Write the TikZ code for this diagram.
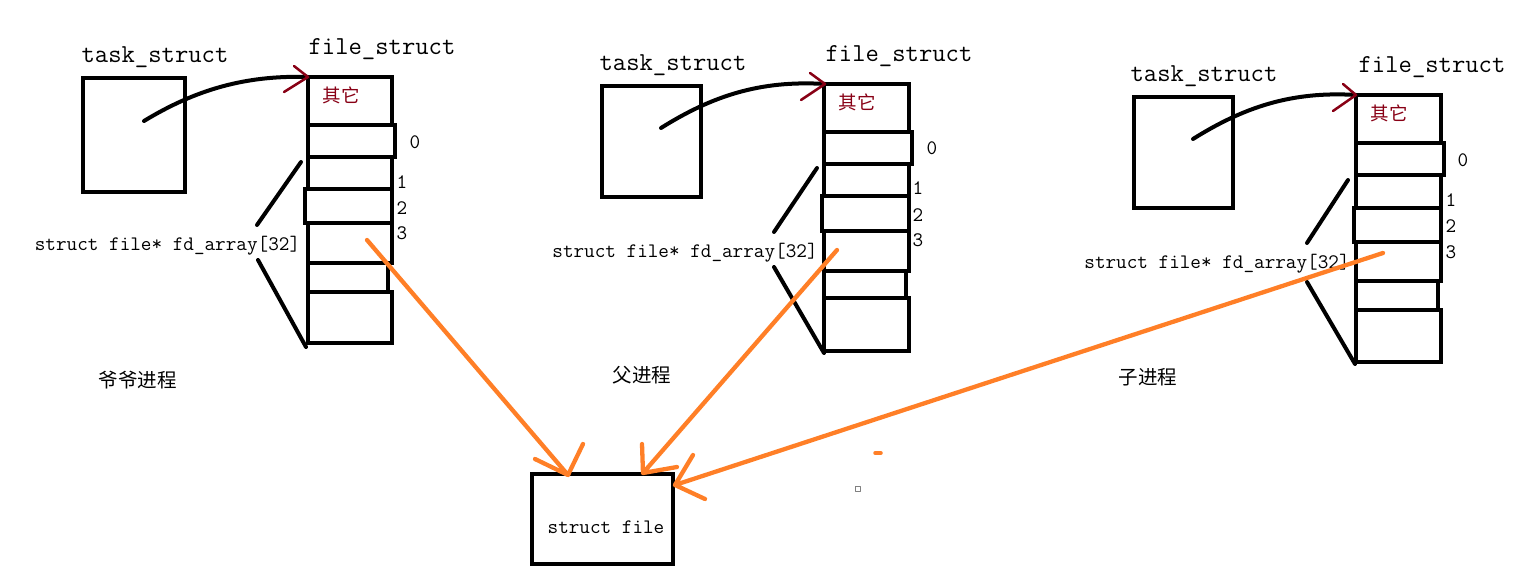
\documentclass[tikz,border=0pt]{standalone}
\usepackage{fontspec}
\newfontfamily\cjk{Noto Sans CJK SC}
\definecolor{pord}{HTML}{FF7F27}
\definecolor{pdred}{HTML}{880015}
\begin{document}
\begin{tikzpicture}[x=1pt,y=-1pt,line cap=round,line join=round,
  blk/.style={draw=black,line width=4.5pt,inner sep=0pt,outer sep=0pt,rectangle,line cap=butt,line join=miter},
  ttl/.style={inner sep=0pt,anchor=base,font=\ttfamily\fontsize{25.9}{28}\selectfont},
  fdl/.style={inner sep=0pt,anchor=base,font=\ttfamily\fontsize{20.6}{23}\selectfont},
  dig/.style={inner sep=0pt,font=\ttfamily\fontsize{20.6}{23}\selectfont},
  oth/.style={inner sep=0pt,text=pdred,font=\cjk\fontsize{18.5}{20}\selectfont},
  proc/.style={inner sep=0pt,font=\cjk\fontsize{19.5}{21}\selectfont},
  ptr/.style={draw=black,line width=4pt},
  ahead/.style={draw=pdred,line width=2.5pt},
  wedge/.style={draw=black,line width=4pt},
  oline/.style={draw=pord,line width=4.3pt}]
\useasboundingbox (0,0) rectangle (1535,577);

% ---------- group 1 ----------
\node[ttl] (tl1) at (155,63) {task\_struct};
\node[ttl] (fl1) at (382,55) {file\_struct};
\node[blk,minimum width=102,minimum height=114] (t1) at (134,135) {};
\node[blk,minimum width=84,minimum height=48] (a0o) at (350,101) {};
\node[blk,minimum width=87,minimum height=32] (a0) at (351.5,141) {};
\node[blk,minimum width=84,minimum height=32] (a1) at (350,173) {};
\node[blk,minimum width=87,minimum height=34] (a2) at (348.5,206) {};
\node[blk,minimum width=84,minimum height=40] (a3) at (350,243) {};
\node[blk,minimum width=80,minimum height=29] (a4) at (348,277.5) {};
\node[blk,minimum width=84,minimum height=51] (a5) at (350,317.5) {};
\node[oth] (ao) at (341,95) {其它};
\node[dig] (ad0) at (415,142) {0};
\node[dig] (ad1) at (402,182) {1};
\node[dig] (ad2) at (402,208) {2};
\node[dig] (ad3) at (402,233) {3};
\node[fdl] (afd) at (167.5,251) {struct file* fd\_array[32]};
\node[proc] (ap) at (137.5,380) {爷爷进程};
\coordinate (ap0) at (144,121);
\coordinate (atip) at (308,77);
\draw[ptr] (ap0) .. controls (195,90) and (245,75) .. (atip);
\draw[ahead] (atip) ++(-14,-11) -- (atip) -- ++(-24,15);
\coordinate (aw1) at (301,162); \coordinate (aw2) at (257,225);
\coordinate (aw3) at (258,260); \coordinate (aw4) at (306,347);
\draw[wedge] (aw1) -- (aw2);
\draw[wedge] (aw3) -- (aw4);

% ---------- group 2 ----------
\node[ttl] (tl2) at (673,71) {task\_struct};
\node[ttl] (fl2) at (899,62) {file\_struct};
\node[blk,minimum width=99,minimum height=111] (t2) at (651.5,141.5) {};
\node[blk,minimum width=85,minimum height=48] (b0o) at (866.5,108) {};
\node[blk,minimum width=88,minimum height=32] (b0) at (868,148) {};
\node[blk,minimum width=85,minimum height=32] (b1) at (866.5,180) {};
\node[blk,minimum width=87,minimum height=35] (b2) at (865.5,213.5) {};
\node[blk,minimum width=85,minimum height=40] (b3) at (866.5,251) {};
\node[blk,minimum width=82,minimum height=27] (b4) at (865,284.5) {};
\node[blk,minimum width=85,minimum height=53] (b5) at (866.5,324.5) {};
\node[oth] (bo) at (857,102) {其它};
\node[dig] (bd0) at (932,148) {0};
\node[dig] (bd1) at (918,188) {1};
\node[dig] (bd2) at (918,215) {2};
\node[dig] (bd3) at (918,240) {3};
\node[fdl] (bfd) at (685,258) {struct file* fd\_array[32]};
\node[proc] (bp) at (642,375) {父进程};
\coordinate (bp0) at (661,128);
\coordinate (btip) at (825,84);
\draw[ptr] (bp0) .. controls (712,96) and (760,80) .. (btip);
\draw[ahead] (btip) ++(-15,-11) -- (btip) -- ++(-24,16);
\coordinate (bw1) at (817,168); \coordinate (bw2) at (774,232);
\coordinate (bw3) at (774,267); \coordinate (bw4) at (824,353);
\draw[wedge] (bw1) -- (bw2);
\draw[wedge] (bw3) -- (bw4);

% ---------- group 3 ----------
\node[ttl] (tl3) at (1204,82) {task\_struct};
\node[ttl] (fl3) at (1432,73) {file\_struct};
\node[blk,minimum width=99,minimum height=111] (t3) at (1183.5,152.5) {};
\node[blk,minimum width=85,minimum height=48] (c0o) at (1398.5,119) {};
\node[blk,minimum width=88,minimum height=32] (c0) at (1400,159) {};
\node[blk,minimum width=85,minimum height=33] (c1) at (1398.5,191.5) {};
\node[blk,minimum width=87,minimum height=34] (c2) at (1397.5,225) {};
\node[blk,minimum width=85,minimum height=39] (c3) at (1398.5,261.5) {};
\node[blk,minimum width=82,minimum height=29] (c4) at (1397,295.5) {};
\node[blk,minimum width=85,minimum height=52] (c5) at (1398.5,336) {};
\node[oth] (co) at (1389,113) {其它};
\node[dig] (cd0) at (1463,160) {0};
\node[dig] (cd1) at (1451,200) {1};
\node[dig] (cd2) at (1451,226) {2};
\node[dig] (cd3) at (1451,252) {3};
\node[fdl] (cfd) at (1217,269) {struct file* fd\_array[32]};
\node[proc] (cp) at (1148,377) {子进程};
\coordinate (cp0) at (1193,139);
\coordinate (ctip) at (1356,95);
\draw[ptr] (cp0) .. controls (1244,107) and (1292,91) .. (ctip);
\draw[ahead] (ctip) ++(-13,-11) -- (ctip) -- ++(-23,16);
\coordinate (cw1) at (1348,180); \coordinate (cw2) at (1307,243);
\coordinate (cw3) at (1307,282); \coordinate (cw4) at (1355,364);
\draw[wedge] (cw1) -- (cw2);
\draw[wedge] (cw3) -- (cw4);

% ---------- struct file ----------
\node[blk,minimum width=141,minimum height=90] (sf) at (602.5,519) {};
\node[fdl] (sft) at (606,533) {struct file};
\coordinate (sfA) at (568,475);
\coordinate (sfB) at (643,473);
\coordinate (sfC) at (675,485);
\coordinate (a3p) at (367,240);
\coordinate (b3p) at (837,250);
\coordinate (c3p) at (1383,253);
\draw[oline] (a3p) -- (sfA) -- ++(-33,-16) (sfA) -- ++(15,-31);
\draw[oline] (b3p) -- (sfB) -- ++(-1,-29) (sfB) -- ++(34,-6);
\draw[oline] (c3p) -- (sfC) -- ++(18,-30) (sfC) -- ++(30,14);

% ---------- stray marks ----------
\coordinate (dot1) at (875,453);
\draw[draw=pord,line width=3.5pt] (dot1) -- ++(6,0);
\node[draw=gray,line width=1pt,minimum size=5,inner sep=0pt] (sq1) at (858,489) {};
\end{tikzpicture}
\end{document}
